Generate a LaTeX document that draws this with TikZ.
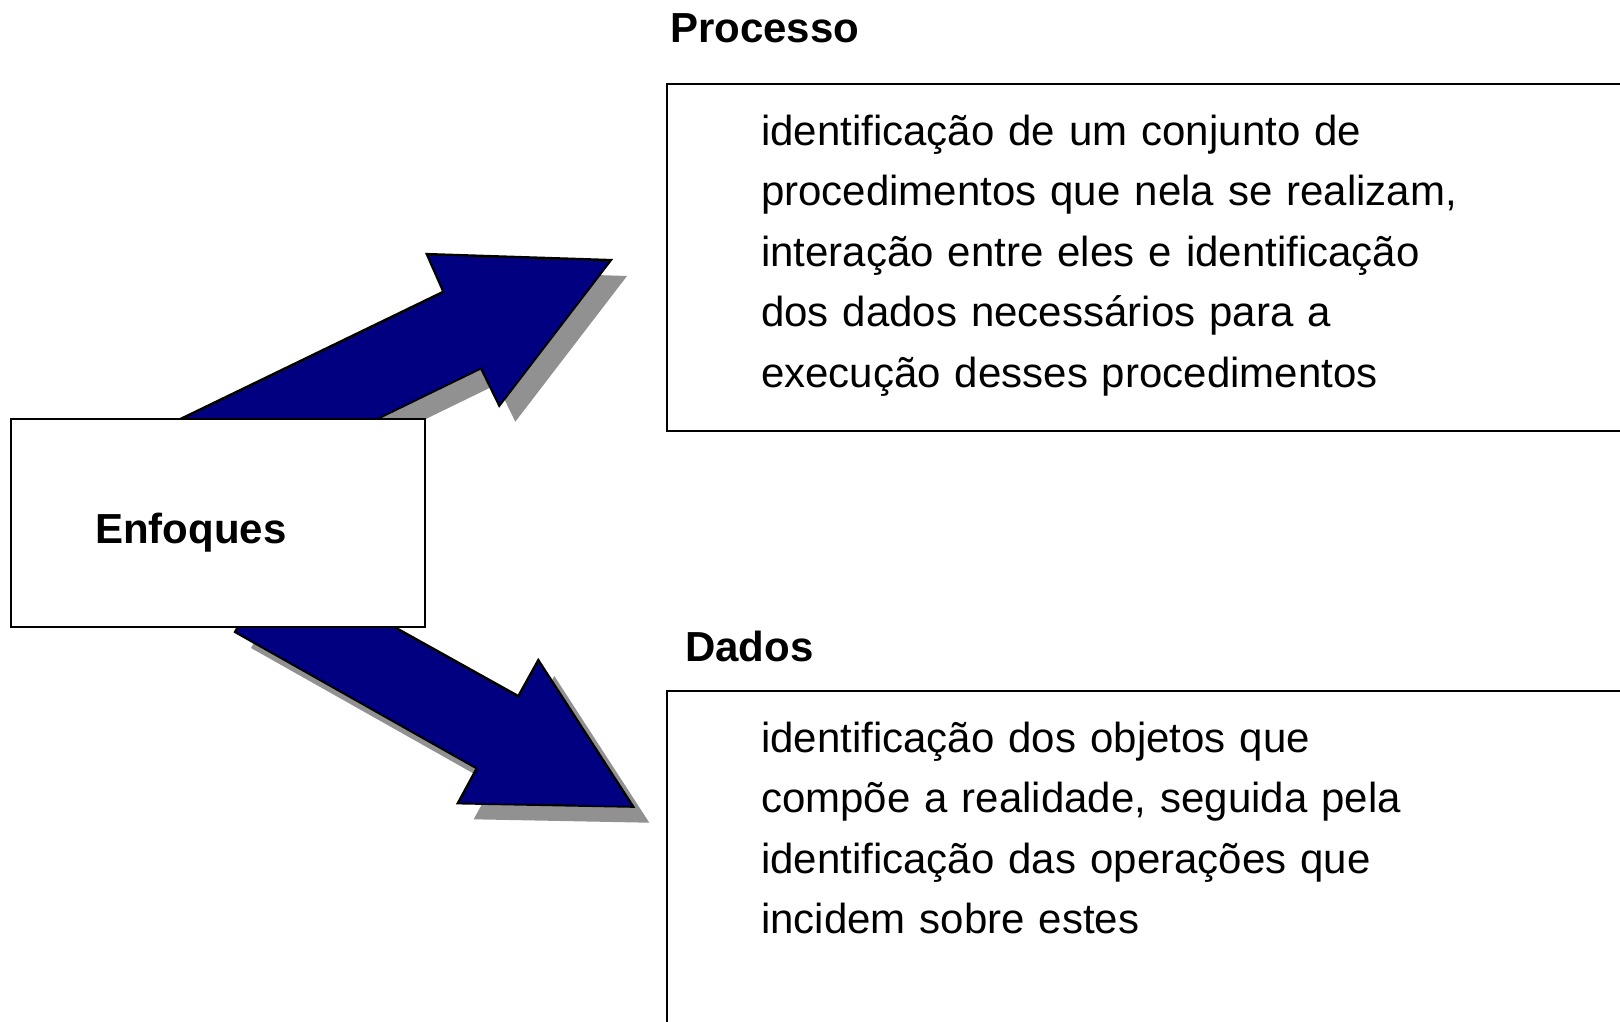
\documentclass[tikz,border=0pt]{standalone}
\usepackage{fontspec}
\setmainfont{Liberation Sans}
\usetikzlibrary{shadows}
\definecolor{arrowblue}{RGB}{0,0,128}
\definecolor{shadowgray}{RGB}{145,145,145}

\begin{document}
\begin{tikzpicture}[x=1pt, y=-1pt,
	box/.style={draw, line width=2pt, fill=white, inner sep=0pt, anchor=north west},
	heading/.style={font=\fontsize{42}{50}\selectfont\bfseries, anchor=base west, inner sep=0pt},
	body/.style={font=\fontsize{42}{60.5}\selectfont, anchor=base west, inner sep=0pt, text width=850pt, align=left},
	bigarrow/.style={draw, line width=2.2pt, fill=arrowblue, line join=miter,
		drop shadow={fill=shadowgray, opacity=1, shadow xshift=16pt, shadow yshift=-16pt}}]

	\useasboundingbox (0,0) rectangle (1620,1021);
	\clip (0,0) rectangle (1620,1021);

	\coordinate (up1) at (91.7,461.9);
	\coordinate (up2) at (443.3,291.7);
	\coordinate (up3) at (426.7,254);
	\coordinate (up4) at (611,260);
	\coordinate (up5) at (499.3,405.7);
	\coordinate (up6) at (481,368.3);
	\coordinate (up7) at (129.3,539.6);

	\coordinate (dn1) at (275.3,560.6);
	\coordinate (dn2) at (518.3,696);
	\coordinate (dn3) at (538.3,660);
	\coordinate (dn4) at (633.3,806.7);
	\coordinate (dn5) at (457.7,803.3);
	\coordinate (dn6) at (476.7,768.3);
	\coordinate (dn7) at (235,632);

	\foreach \a in {up, dn}
	{
		\draw[bigarrow] (\a1) -- (\a2) -- (\a3) -- (\a4) -- (\a5) -- (\a6) -- (\a7) -- cycle;
	};

	\node[box, minimum width=414pt, minimum height=208pt] (enfoques) at (10,418) {};
	\node[heading] (enfoqueslbl) at (95,543) {Enfoques};

	\node[heading] (processo) at (670,42.5) {Processo};
	\node[box, minimum width=1000pt, minimum height=347pt] (procbox) at (666,83) {};
	\node[body] (proctext) at (761,145) {identificação de um conjunto de\\
		procedimentos que nela se realizam,\\
		interação entre eles e identificação\\
		dos dados necessários para a\\
		execução desses procedimentos};

	\node[heading] (dados) at (685,661) {Dados};
	\node[box, minimum width=1000pt, minimum height=400pt] (dadosbox) at (666,690) {};
	\node[body] (dadostext) at (761,752) {identificação dos objetos que\\
		compõe a realidade, seguida pela\\
		identificação das operações que\\
		incidem sobre estes};
\end{tikzpicture}
\end{document}
